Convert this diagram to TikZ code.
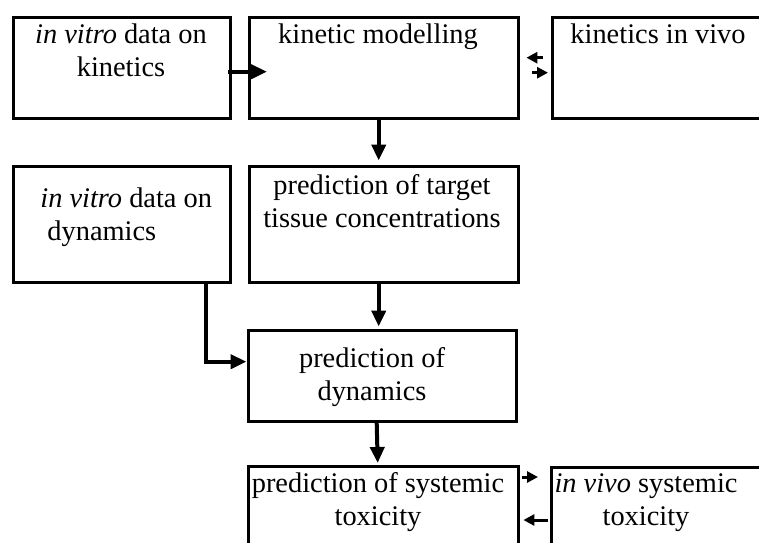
\documentclass[tikz,border=0pt]{standalone}
\usepackage{fontspec}
\setmainfont{Liberation Serif}
\usetikzlibrary{arrows.meta}

\begin{document}
\begin{tikzpicture}[x=0.5pt,y=-0.5pt]
\tikzstyle{box}=[draw, line width=1.7pt, anchor=north west, inner sep=0pt]
\tikzstyle{boxtext}=[anchor=base, align=center, inner sep=0pt, font=\fontsize{14.2pt}{16.5pt}\selectfont]
\tikzstyle{flow}=[line width=2pt, -{Triangle[length=8pt, width=7pt]}]
\tikzstyle{small}=[line width=1.5pt, -{Triangle[length=5.5pt, width=5.5pt]}]

\useasboundingbox (0,0) rectangle (759,542);
\clip (0,0) rectangle (759,542);

% boxes
\node[box, minimum width=108.5pt, minimum height=50.5pt] (kinvitro) at (11.5,15.5) {};
\node[box, minimum width=134.5pt, minimum height=50.5pt] (kinmodel) at (247.5,15.5) {};
\node[box, minimum width=115pt, minimum height=50.5pt] (kinvivo) at (550.5,15.5) {};
\node[box, minimum width=108.5pt, minimum height=58pt] (dynvitro) at (11.5,164.5) {};
\node[box, minimum width=134.5pt, minimum height=58pt] (tissue) at (247.5,164.5) {};
\node[box, minimum width=134pt, minimum height=45.5pt] (dynpred) at (246.5,328.5) {};
\node[box, minimum width=135pt, minimum height=50pt] (toxpred) at (246.5,464.5) {};
\node[box, minimum width=115pt, minimum height=50pt] (toxvivo) at (549.5,465.5) {};

% texts (base = last line)
\node[boxtext] (kinvitrotext) at (121,76) {\textit{in vitro} data on\\kinetics};
\node[boxtext] (kinmodeltext) at (378,43) {kinetic modelling};
\node[boxtext] (kinvivotext) at (658,43) {kinetics in vivo};
\node[boxtext, anchor=base west, align=left] (dynvitrotext) at (40,240) {\textit{in vitro} data on\\\hspace{3.5pt}dynamics};
\node[boxtext] (tissuetext) at (382,227) {prediction of target\\tissue concentrations};
\node[boxtext] (dynpredtext) at (372,400) {prediction of\\dynamics};
\node[boxtext] (toxpredtext) at (378,525) {prediction of systemic\\toxicity};
\node[boxtext] (toxvivotext) at (646,525) {\textit{in vivo} systemic\\toxicity};

% arrows
\draw[flow] ([shift={(-3.5,4)}]kinvitro.east) -- ([shift={(19.5,4)}]kinmodel.west);
\draw[small] ([shift={(12.5,5)}]kinmodel.east) -- ([shift={(-2.5,5)}]kinvivo.west);
\draw[small] ([shift={(-7.5,-10)}]kinvivo.west) -- ([shift={(6.5,-10)}]kinmodel.east);
\draw[flow] ([shift={(-5,0)}]kinmodel.south) -- ([shift={(-5,-4)}]tissue.north);
\draw[flow] ([shift={(-5,0)}]tissue.south) -- ([shift={(-3.5,-2)}]dynpred.north);
\draw[flow] ([shift={(84,0)}]dynvitro.south) |- ([shift={(0,-14)}]dynpred.west);
\draw[flow] ([shift={(-5.5,0)}]dynpred.south) -- ([shift={(-5.5,-1.5)}]toxpred.north);
\draw[small] ([shift={(2,12.5)}]toxpred.north east) -- ([shift={(-11.5,11.5)}]toxvivo.north west);
\draw[small] ([shift={(-1.5,54.5)}]toxvivo.north west) -- ([shift={(3.5,55.5)}]toxpred.north east);

\end{tikzpicture}
\end{document}
